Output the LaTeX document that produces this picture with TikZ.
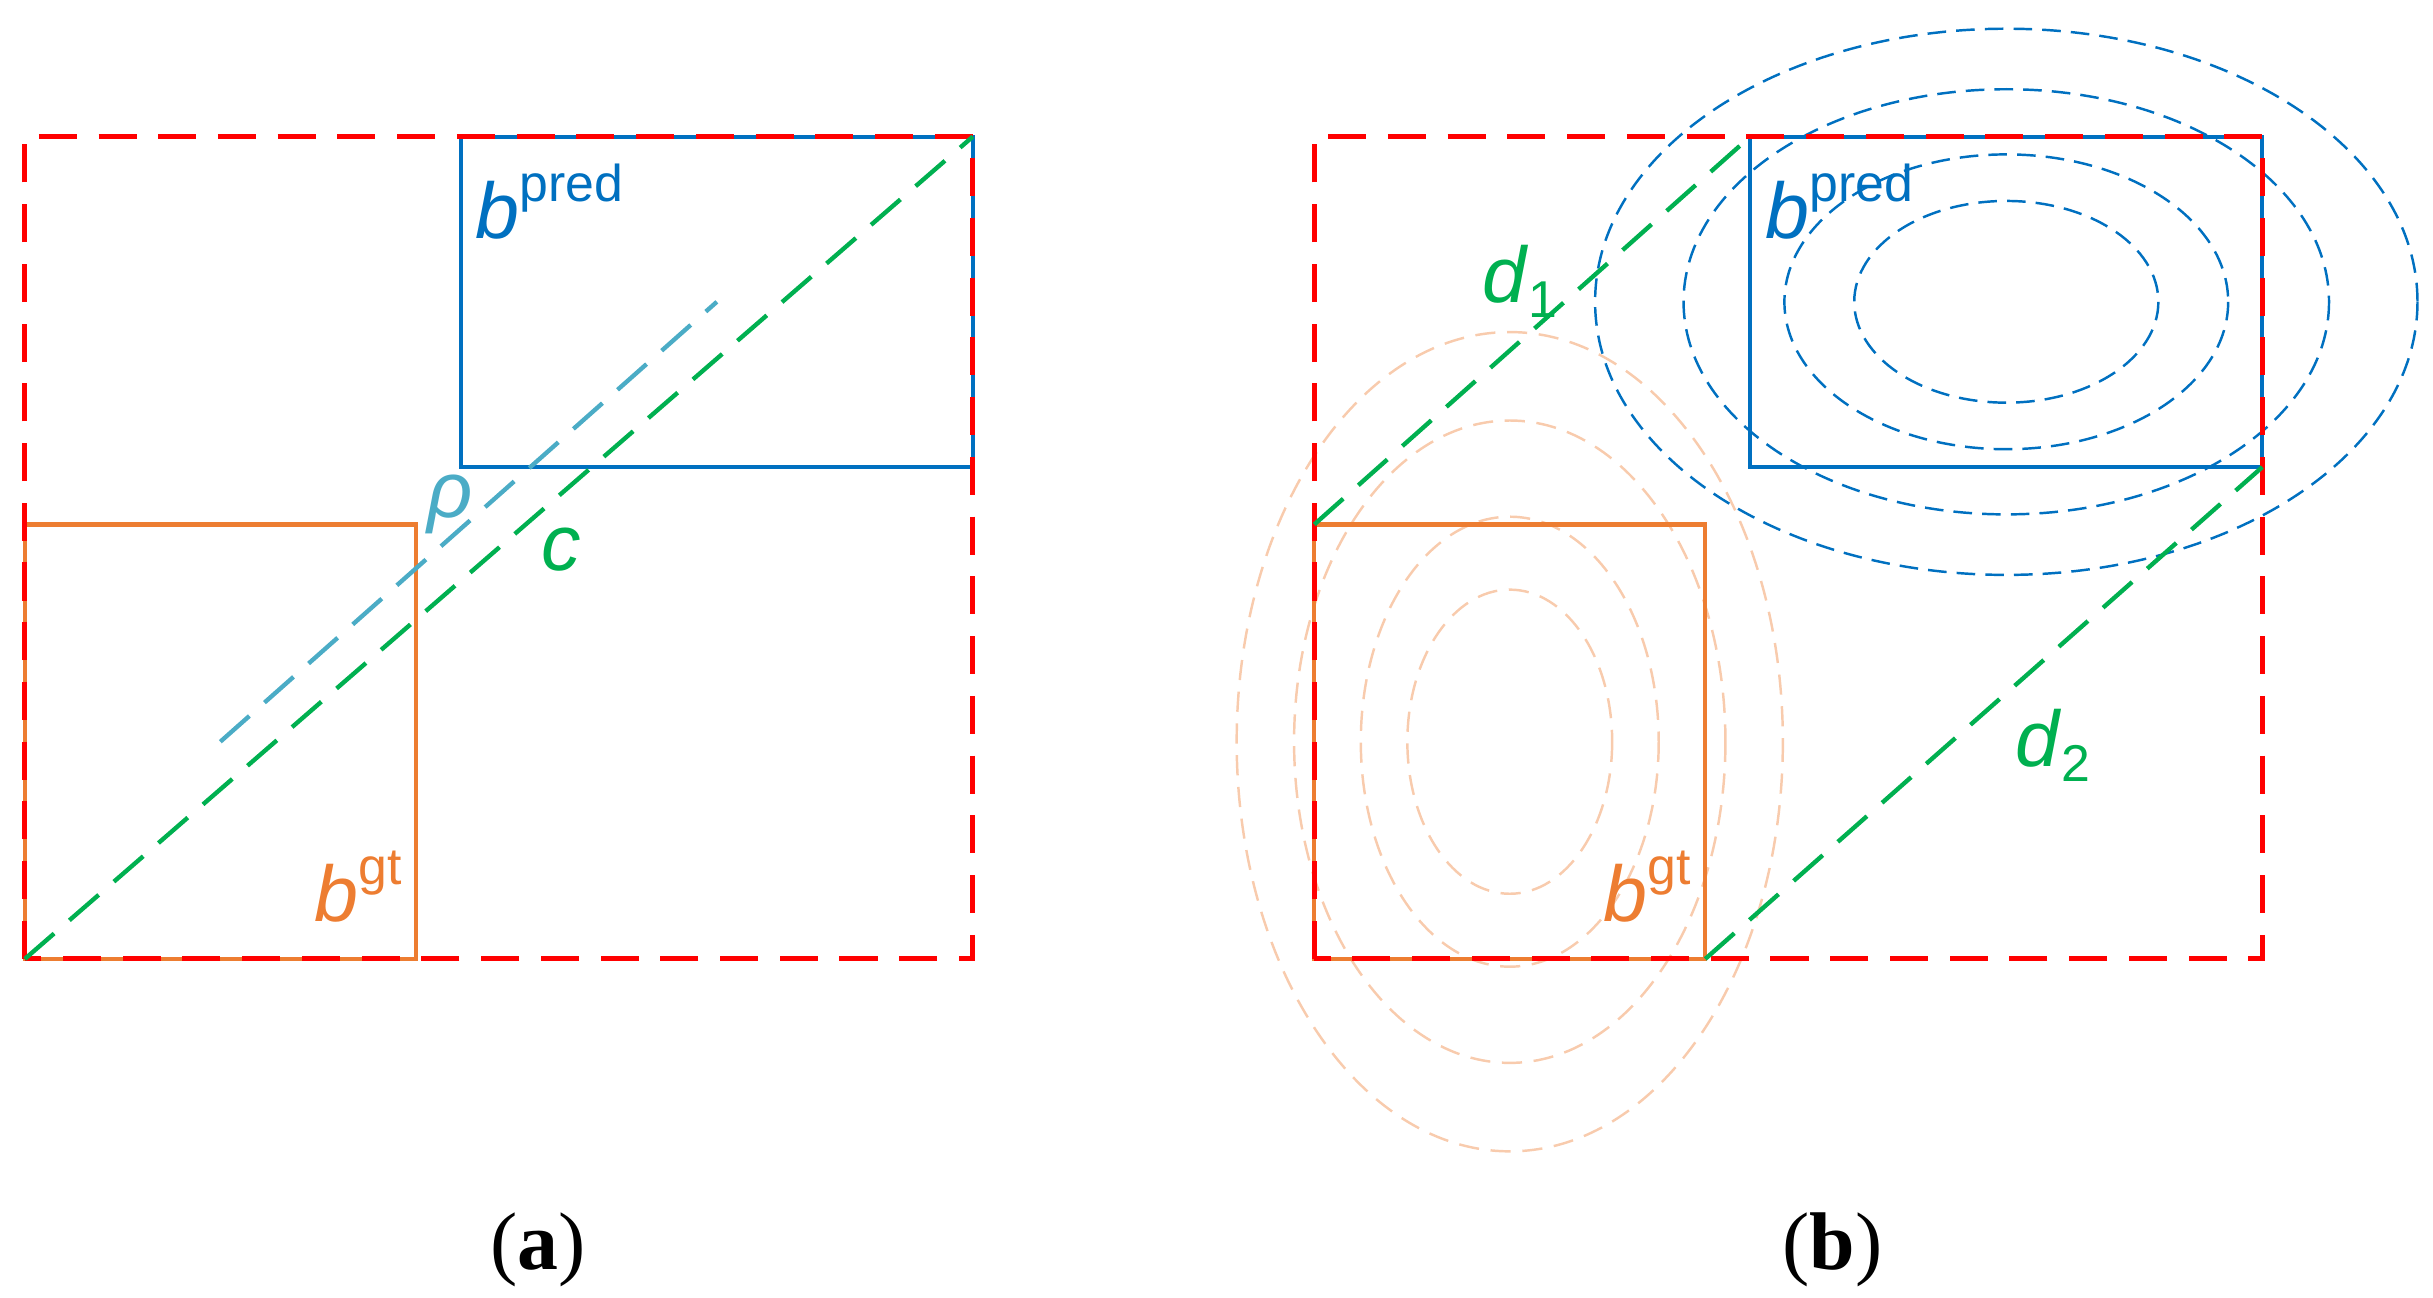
\documentclass[tikz,border=0pt]{standalone}
\usepackage{fontspec}
\setmainfont{Liberation Serif}
\newfontfamily\lblfont{Liberation Sans}
\usetikzlibrary{calc}
\definecolor{encred}{RGB}{255,0,0}
\definecolor{predblue}{RGB}{0,112,192}
\definecolor{gtorange}{RGB}{237,125,49}
\definecolor{diaggreen}{RGB}{0,176,80}
\definecolor{rhoblue}{RGB}{75,172,198}
\definecolor{gtpeach}{RGB}{248,203,173}
\tikzset{
  encbox/.style={draw=encred,line width=0.9pt,dash pattern=on 2.45mm off 1.4mm},
  predbox/.style={draw=predblue,line width=0.75pt},
  gtbox/.style={draw=gtorange,line width=0.75pt},
  diag/.style={draw=diaggreen,line width=0.8pt,dash pattern=on 2.5mm off 1.3mm},
  ctrline/.style={draw=rhoblue,line width=0.8pt,dash pattern=on 2.5mm off 1.3mm},
  predell/.style={draw=predblue,line width=0.45pt,dash pattern=on 1.2mm off 0.65mm},
  gtell/.style={draw=gtpeach,line width=0.45pt,dash pattern=on 1.3mm off 0.75mm},
  lbl/.style={font=\lblfont\fontsize{14.5}{16}\selectfont,inner sep=0pt},
  subcap/.style={font=\fontsize{15}{17}\selectfont,inner sep=0pt}
}
\newcommand{\supl}[2]{\textit{#1}\raisebox{6.8pt}{\fontsize{9.5}{10}\selectfont #2}}
\newcommand{\subl}[2]{\textit{#1}\raisebox{-2.8pt}{\fontsize{9.5}{10}\selectfont #2}}

\begin{document}
\begin{tikzpicture}[x=0.1mm,y=-0.1mm]
  \useasboundingbox (0,0) rectangle (1568,836);

  % (a) corners
  \coordinate (encA-sw) at (16,618);
  \coordinate (encA-ne) at (627,88);
  \coordinate (predA-sw) at (297,301);
  \coordinate (predA-ne) at (627,88);
  \coordinate (gtA-sw) at (16,618);
  \coordinate (gtA-ne) at (268,338);
  \coordinate (predA-c) at ($(predA-sw)!0.5!(predA-ne)$);
  \coordinate (gtA-c) at ($(gtA-sw)!0.5!(gtA-ne)$);

  \draw[gtbox] (gtA-sw) rectangle (gtA-ne);
  \draw[predbox] (predA-sw) rectangle (predA-ne);
  \draw[encbox] (encA-sw) rectangle (encA-ne);
  \draw[ctrline] (gtA-c) -- (predA-c);
  \draw[diag] (encA-sw) -- (encA-ne);

  \node[lbl,text=predblue,anchor=base west] (predA-lbl) at (306,154) {\supl{b}{pred}};
  \node[lbl,text=gtorange,anchor=base west] (gtA-lbl) at (202,594) {\supl{b}{gt}};
  \node[lbl,text=rhoblue] (rho-lbl) at (290,325) {\textit{ρ}};
  \node[lbl,text=diaggreen] (c-lbl) at (362,354) {\textit{c}};

  % (b) corners
  \coordinate (encB-sw) at (847,618);
  \coordinate (encB-ne) at (1458,88);
  \coordinate (predB-sw) at (1128,301);
  \coordinate (predB-ne) at (1458,88);
  \coordinate (predB-nw) at (1128,88);
  \coordinate (predB-se) at (1458,301);
  \coordinate (gtB-sw) at (847,618);
  \coordinate (gtB-ne) at (1099,338);
  \coordinate (gtB-nw) at (847,338);
  \coordinate (gtB-se) at (1099,618);
  \coordinate (predB-c) at ($(predB-sw)!0.5!(predB-ne)$);
  \coordinate (gtB-c) at ($(gtB-sw)!0.5!(gtB-ne)$);

  \foreach \rx/\ry in {98/65,143/95,208/137,265/176}
    \draw[predell] (predB-c) ellipse [x radius=\rx, y radius=\ry];
  \foreach \rx/\ry in {66/98,96/145,139/207,176/264}
    \draw[gtell] (gtB-c) ellipse [x radius=\rx, y radius=\ry];

  \draw[gtbox] (gtB-sw) rectangle (gtB-ne);
  \draw[predbox] (predB-sw) rectangle (predB-ne);
  \draw[encbox] (encB-sw) rectangle (encB-ne);
  \draw[diag] (gtB-nw) -- (predB-nw);
  \draw[diag] (gtB-se) -- (predB-se);

  \node[lbl,text=predblue,anchor=base west] (predB-lbl) at (1137,154) {\supl{b}{pred}};
  \node[lbl,text=gtorange,anchor=base west] (gtB-lbl) at (1033,594) {\supl{b}{gt}};
  \node[lbl,text=diaggreen,anchor=base west] (d1-lbl) at (955,195) {\subl{d}{1}};
  \node[lbl,text=diaggreen,anchor=base west] (d2-lbl) at (1298,494) {\subl{d}{2}};

  % captions
  \node[subcap,anchor=base] (capA) at (347,818) {(\textbf{a})};
  \node[subcap,anchor=base] (capB) at (1181,818) {(\textbf{b})};
\end{tikzpicture}
\end{document}
